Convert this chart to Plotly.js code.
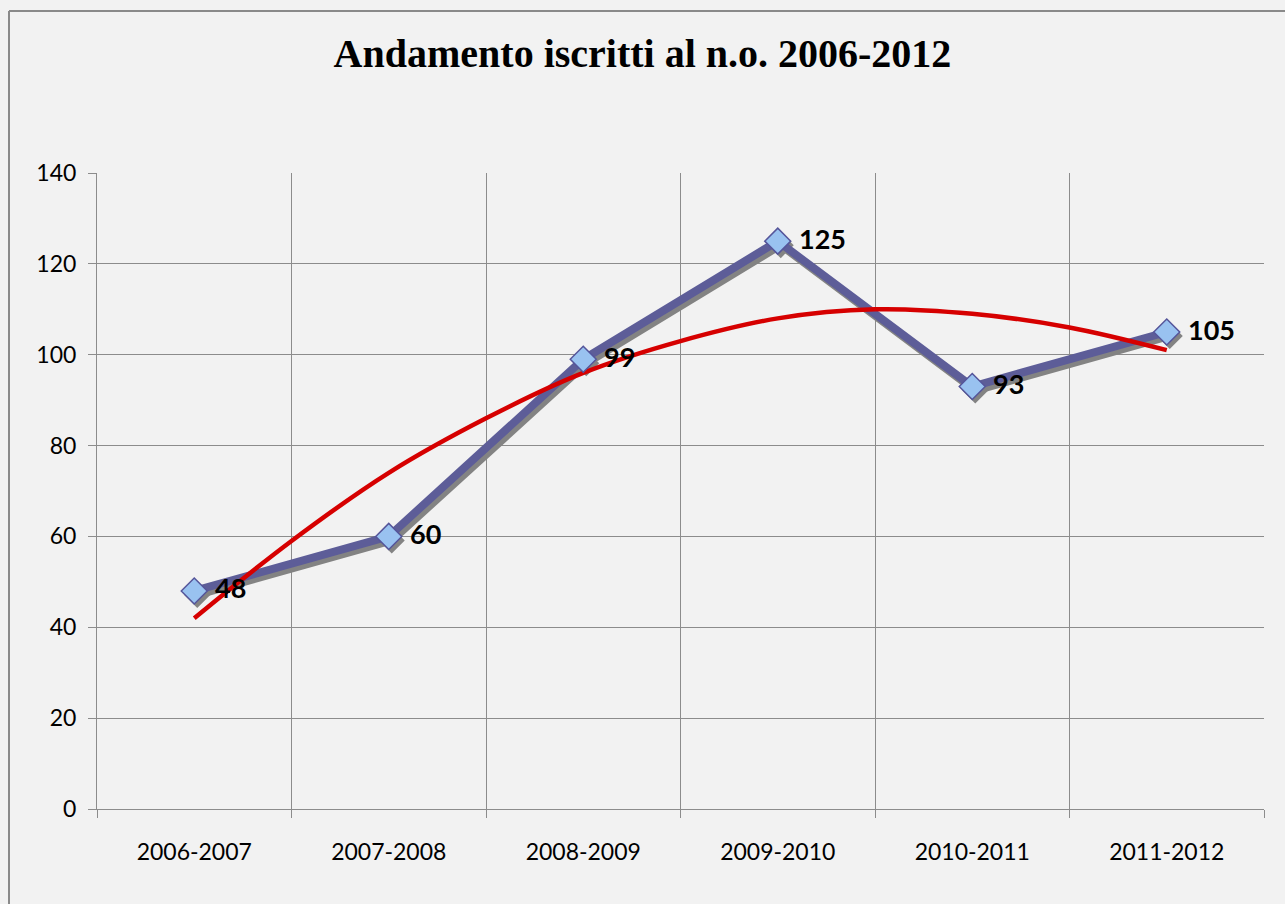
<!DOCTYPE html>
<html>
<head>
<meta charset="utf-8">
<script src="https://cdn.plot.ly/plotly-3.0.1.min.js"></script>
<style>html,body{margin:0;padding:0;background:#f2f2f2;}</style>
</head>
<body>
<div id="chart" style="width:1285px;height:904px;"></div>
<script>
// Data
const categories = ["2006-2007", "2007-2008", "2008-2009", "2009-2010", "2010-2011", "2011-2012"];
const positions = [1, 2, 3, 4, 5, 6];
const iscritti = [48, 60, 99, 125, 93, 105];
// polynomial trend line
const trendX = [1, 1.5, 2, 2.5, 3, 3.5, 4, 4.5, 5, 5.5, 6];
const trendY = [42, 59, 74, 86, 96, 103, 108, 110, 109, 106, 101];
const yTicks = [0, 20, 40, 60, 80, 100, 120, 140];
const boundaries = [0.5, 1.5, 2.5, 3.5, 4.5, 5.5, 6.5];

const W = 1285, H = 904;
const L = 97, R = 21, T = 173, B = 95;
const plotW = W - L - R, plotH = H - T - B;
const xRange = [0.5, 6.5], yRange = [0, 140];
// shadow offsets in pixels converted to axis units
const dxU = 3 * (xRange[1] - xRange[0]) / plotW;
const dyU = 4 * (yRange[1] - yRange[0]) / plotH;

const lineColor = "#5D5D98";
const traces = [
  { // grid holder
    x: positions, y: iscritti, xaxis: "x", yaxis: "y", type: "scatter", mode: "none",
    hoverinfo: "skip", showlegend: false
  },
  { // shadow
    x: positions, y: iscritti, xaxis: "x2", yaxis: "y2", type: "scatter", mode: "lines+markers",
    line: {color: "#838383", width: 8}, marker: {symbol: "diamond", size: 20, color: "#838383"},
    hoverinfo: "skip", showlegend: false
  },
  {
    x: positions, y: iscritti, xaxis: "x3", yaxis: "y3", type: "scatter", mode: "lines",
    line: {color: lineColor, width: 8}, showlegend: false
  },
  {
    x: trendX, y: trendY, xaxis: "x3", yaxis: "y3", type: "scatter", mode: "lines",
    line: {color: "#D60000", width: 4.5, shape: "spline"}, showlegend: false
  },
  {
    x: positions, y: iscritti, xaxis: "x3", yaxis: "y3", type: "scatter", mode: "markers",
    marker: {symbol: "diamond", size: 20, color: "#99C2F0", line: {color: "#55559A", width: 1.5}},
    showlegend: false
  }
];

const annotations = positions.map((p, i) => ({
  x: p, y: iscritti[i], xref: "x3", yref: "y3",
  text: "<b>" + iscritti[i] + "</b>", showarrow: false,
  xanchor: "left", yanchor: "middle", xshift: 19, yshift: 3,
  font: {family: "Lato, 'Open Sans', sans-serif", size: 27, color: "#000"}
}));

const layout = {
  width: W, height: H,
  margin: {l: L, r: R, t: T, b: B, pad: 0},
  paper_bgcolor: "#f2f2f2", plot_bgcolor: "rgba(0,0,0,0)",
  font: {family: "Lato, sans-serif", color: "#000"},
  title: {
    text: "<b>Andamento iscritti al n.o. 2006-2012</b>",
    font: {family: "'Liberation Serif', 'DejaVu Serif', serif", size: 40, color: "#000"},
    x: 0.5, xanchor: "center", y: 1 - 53 / H, yanchor: "middle"
  },
  xaxis: {
    range: xRange, tickvals: boundaries, ticktext: boundaries.map(() => ""),
    showgrid: true, gridcolor: "#8c8c8c", gridwidth: 1,
    ticks: "outside", ticklen: 8, tickcolor: "#8c8c8c",
    showline: true, linecolor: "#8c8c8c", zeroline: false, fixedrange: true
  },
  yaxis: {
    range: yRange, tickvals: yTicks,
    showgrid: true, gridcolor: "#8c8c8c", gridwidth: 1,
    ticks: "outside", ticklen: 8, tickcolor: "#8c8c8c",
    showline: true, linecolor: "#8c8c8c", zeroline: false,
    tickfont: {family: "Lato, sans-serif", size: 23, color: "#000"}, ticklabelstandoff: 7
  },
  xaxis2: {overlaying: "x", range: [xRange[0] - dxU, xRange[1] - dxU], visible: false},
  yaxis2: {overlaying: "y", range: [yRange[0] + dyU, yRange[1] + dyU], visible: false},
  xaxis3: {
    overlaying: "x", range: xRange, tickvals: positions, ticktext: categories,
    showgrid: false, ticks: "", showline: false, zeroline: false, side: "bottom",
    tickfont: {family: "Lato, sans-serif", size: 23, color: "#000"}, ticklabelstandoff: 27
  },
  yaxis3: {overlaying: "y", range: yRange, visible: false},
  annotations: annotations,
  shapes: [
    {type: "line", xref: "paper", yref: "paper", x0: (9 - L) / plotW, x1: 1.1, y0: (H - B - 11) / plotH, y1: (H - B - 11) / plotH,
     line: {color: "#8a8a8a", width: 2}},
    {type: "line", xref: "paper", yref: "paper", x0: (9 - L) / plotW, x1: (9 - L) / plotW, y0: -0.3, y1: (H - B - 11) / plotH,
     line: {color: "#8a8a8a", width: 2}}
  ]
};

Plotly.newPlot("chart", traces, layout, {displayModeBar: false, staticPlot: true});
</script>
</body>
</html>
